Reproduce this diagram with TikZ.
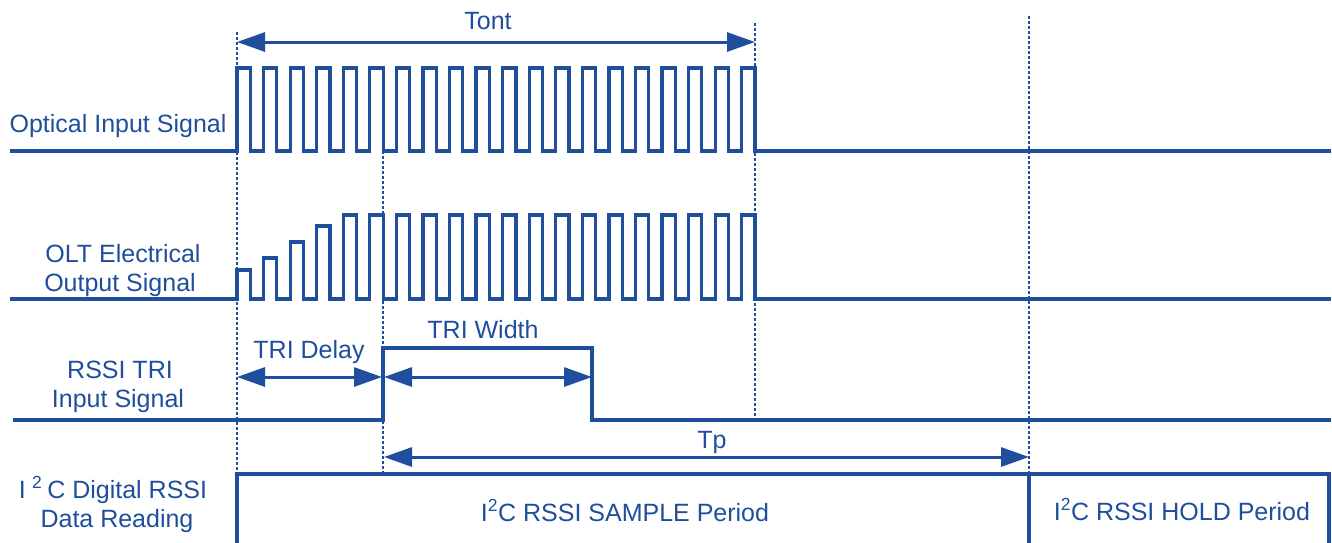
\documentclass[tikz,border=0pt]{standalone}
\usepackage{fontspec}
\setmainfont{Liberation Sans}
\usetikzlibrary{arrows.meta}
\definecolor{sigblue}{HTML}{1F4E9C}
\begin{document}
\begin{tikzpicture}[x=1pt,y=-1pt,
  sig/.style={draw=sigblue,line width=3.2pt,line join=miter},
  vguide/.style={draw=sigblue,line width=2.6pt,dash pattern=on 3pt off 2pt},
  dimarrow/.style={draw=sigblue,line width=3pt,{Triangle[length=28pt,width=19pt]}-{Triangle[length=28pt,width=19pt]}},
  lbl/.style={text=sigblue,font=\fontsize{25}{30}\selectfont,inner sep=0pt,anchor=base},
  frameline/.style={draw=sigblue,line width=4.2pt,line join=miter}]
\useasboundingbox (0,0) rectangle (1332,542);
\def\h{13.282}
% guide coordinates
\coordinate (g0top) at (237,32);   \coordinate (g0bot) at (237,474);
\coordinate (g1top) at (383,151);  \coordinate (g1bot) at (383,474);
\coordinate (g2top) at (755,23);   \coordinate (g2bot) at (755,418);
\coordinate (g3top) at (1029,16);  \coordinate (g3bot) at (1029,474);
% dotted guides
\draw[vguide] (g0top) -- (g0bot);
\draw[vguide] (g1top) -- (g1bot);
\draw[vguide] (g2top) -- (g2bot);
\draw[vguide] (g3top) -- (g3bot);
% optical input signal
\draw[sig] (10,151) -- (237,151)
  \foreach \k in {1,...,20}{ -- ++(0,-83) -- ++(\h,0) -- ++(0,83) -- ++(\h,0)} -- (1331,151);
% OLT electrical output signal
\draw[sig] (10,299) -- (237,299)
  \foreach \a in {29,41,57,73,84,84,84,84,84,84,84,84,84,84,84,84,84,84,84,84}{ -- ++(0,-\a) -- ++(\h,0) -- ++(0,\a) -- ++(\h,0)} -- (1331,299);
% RSSI TRI input signal
\draw[sig] (13,420) -- (383,420) -- (383,348) -- (592,348) -- (592,420) -- (1331,420);
% I2C data reading frame
\draw[frameline] (237,545) -- (237,474) -- (1329,474) -- (1329,545);
\draw[frameline] (1029,474) -- (1029,545);
% dimension arrows
\coordinate (tontL) at (237,42);  \coordinate (tontR) at (755,42);
\coordinate (delL) at (237,377);  \coordinate (delR) at (382,377);
\coordinate (widL) at (384,377);  \coordinate (widR) at (592,377);
\coordinate (tpL) at (384,457);   \coordinate (tpR) at (1029,457);
\draw[dimarrow] (tontL) -- (tontR);
\draw[dimarrow] (delL) -- (delR);
\draw[dimarrow] (widL) -- (widR);
\draw[dimarrow] (tpL) -- (tpR);
% labels
\node[lbl] (tont) at (488,29) {Tont};
\node[lbl] (tridelay) at (309,358) {TRI Delay};
\node[lbl] (triwidth) at (483,338) {TRI Width};
\node[lbl] (tp) at (712,448) {Tp};
\node[lbl] (sample) at (625,521) {I\textsuperscript{2}C RSSI SAMPLE Period};
\node[lbl] (hold) at (1182,520) {I\textsuperscript{2}C RSSI HOLD Period};
\node[lbl] (optlbl) at (118,132) {Optical Input Signal};
\node[lbl] (oltlbl1) at (123,262) {OLT Electrical};
\node[lbl] (oltlbl2) at (120,291) {Output Signal};
\node[lbl] (trilbl1) at (120,378) {RSSI TRI};
\node[lbl] (trilbl2) at (118,407) {Input Signal};
\node[lbl] (i2clbl1) at (113,498) {I\hspace{0.25em}\textsuperscript{2}\hspace{0.2em}C Digital RSSI};
\node[lbl] (i2clbl2) at (117,527) {Data Reading};
\end{tikzpicture}
\end{document}
